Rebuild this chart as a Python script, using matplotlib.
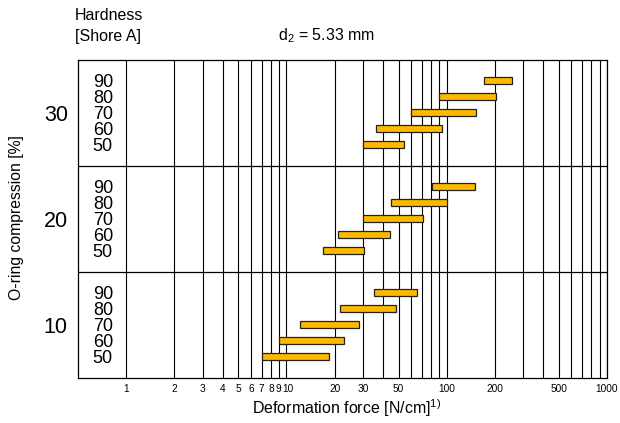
import numpy as np
import matplotlib
matplotlib.use("Agg")
import matplotlib.pyplot as plt
import matplotlib.transforms as mtransforms

plt.rcParams['font.family'] = ['Liberation Sans', 'DejaVu Sans']
plt.rcParams['mathtext.fontset'] = 'custom'
plt.rcParams['mathtext.rm'] = 'Liberation Sans'
plt.rcParams['mathtext.it'] = 'Liberation Sans'

# data
compression = [30, 20, 10]
hardness = [90, 80, 70, 60, 50]
force_low = {
    30: [170, 90, 60, 36, 30],
    20: [81, 45, 30, 21, 17],
    10: [35, 21.5, 12.2, 9, 7],
}
force_high = {
    30: [255, 203, 152, 94, 54],
    20: [150, 101, 71, 44.5, 30.5],
    10: [65, 48, 28.5, 23, 18.4],
}
grid_values = [1, 2, 3, 4, 5, 6, 7, 8, 9, 10, 20, 30, 40, 50, 60, 70, 80, 90, 100,
               200, 300, 400, 500, 600, 700, 800, 900, 1000]
tick_labels = [1, 2, 3, 4, 5, 6, 7, 8, 9, 10, 20, 30, 50, 100, 200, 500, 1000]

band = 20 / 3.0
bar_color = '#FFB800'

fig = plt.figure(figsize=(6.2, 4.23), dpi=100)
ax = fig.add_axes([78 / 620, 1 - 378 / 423, 529 / 620, 318 / 423])
ax.set_xscale('log')
ax.set_xlim(0.5, 1000)
ax.set_ylim(0, 20)

ax.set_xticks(grid_values)
ax.set_xticklabels([str(v) if v in tick_labels else '' for v in grid_values])
ax.xaxis.set_minor_locator(matplotlib.ticker.NullLocator())
ax.tick_params(axis='x', length=0, labelsize=7.3, pad=4.5)
ax.set_yticks([])
ax.grid(axis='x', color='black', linewidth=0.8)
ax.set_axisbelow(True)
for s in ax.spines.values():
    s.set_linewidth(0.9)

# the 9 and 10 labels sit very close; nudge them apart a little
labels = ax.get_xticklabels()
for lab, v in zip(labels, grid_values):
    if v == 9:
        lab.set_transform(lab.get_transform() + mtransforms.ScaledTranslation(-1.2 / 100, 0, fig.dpi_scale_trans))
    elif v == 10:
        lab.set_transform(lab.get_transform() + mtransforms.ScaledTranslation(1.2 / 100, 0, fig.dpi_scale_trans))

trans = mtransforms.blended_transform_factory(ax.transAxes, ax.transData)
for b, comp in enumerate(compression):
    top = 20 - b * band
    if b > 0:
        ax.axhline(top, color='black', linewidth=0.9)
    ys = [top - 1.3 - i for i in range(len(hardness))]
    lo = np.array(force_low[comp])
    hi = np.array(force_high[comp])
    ax.barh(ys, hi - lo, left=lo, height=0.42, color=bar_color,
            edgecolor='#222222', linewidth=0.9, zorder=3)
    for y, h in zip(ys, hardness):
        ax.text(0.047, y, str(h), transform=trans, ha='center',
                va='center_baseline', fontsize=13)
    ax.text(-0.042, top - band / 2, str(comp), transform=trans, ha='center',
            va='center_baseline', fontsize=15.5, clip_on=False)

fig.text(347 / 620, 1 - 408 / 423, r'Deformation force [N/cm]$^{\mathregular{1)}}$',
         ha='center', va='center', fontsize=11.5)
fig.text(17 / 620, 1 - 218 / 423, 'O-ring compression [%]', rotation=90,
         ha='center', va='center', fontsize=11.3)

fig.text(75 / 620, 1 - 16 / 423, 'Hardness', ha='left', va='center', fontsize=11.5)
fig.text(75 / 620, 1 - 36 / 423, '[Shore A]', ha='left', va='center', fontsize=11.5)
fig.text(278 / 620, 1 - 36 / 423, r'd$_{\mathregular{2}}$ = 5.33 mm', ha='left',
         va='center', fontsize=11.5)

fig.savefig('out.png', dpi=100)
